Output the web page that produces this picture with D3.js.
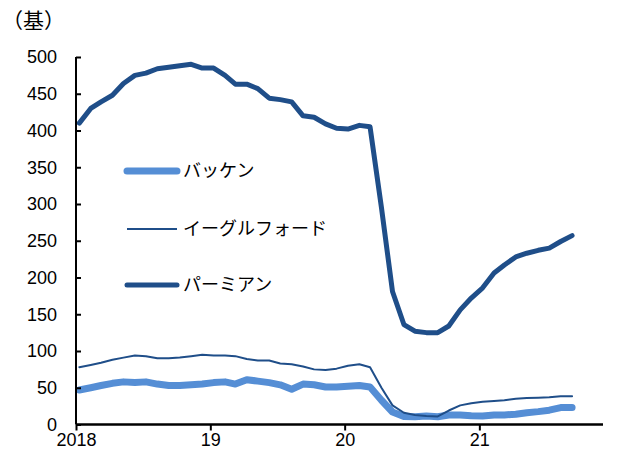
<!DOCTYPE html>
<html>
<head>
<meta charset="utf-8">
<script src="https://cdn.jsdelivr.net/npm/d3@7"></script>
<style>
  body { margin: 0; background: #fff; }
  text { font-family: "Liberation Sans", Arial, sans-serif; }
  .jp { font-family: "Noto Sans CJK JP", sans-serif; }
</style>
</head>
<body>
<script>
// monthly observations, Jan 2018 .. Sep 2021
const months = d3.timeMonth.range(new Date(2018, 0, 1), new Date(2021, 9, 1));

const bakken = [47, 50, 53, 56, 58, 57, 58, 55, 53, 53, 54, 55, 57, 58, 55, 61, 59, 57, 54, 48,
  55, 54, 51, 51, 52, 53, 51, 33, 17, 11, 10.5, 11.5, 10.5, 13, 13, 12, 11.5, 13, 13, 14,
  16, 17.5, 19.5, 23, 23];
const eagleFord = [78, 81, 84, 88, 91, 94, 93, 90, 90, 91, 93, 95, 94, 94, 93, 89, 87, 87, 83, 82,
  79, 75, 74, 76, 80, 82, 78, 50, 26, 16, 13, 11.5, 11, 19, 26, 29, 31, 32, 33, 35,
  36, 36.5, 37, 38.5, 38.5];
const permian = [410, 430, 439, 448, 464, 475, 478, 484, 486, 488, 490, 485, 485, 475, 463, 463, 457, 444, 442, 439,
  420, 418, 409, 403, 402, 407, 405, 295, 181, 136, 127, 125, 125, 134, 156, 172, 186, 206, 217, 228,
  233, 237, 240, 249, 257];

const seriesNames = ['バッケン', 'イーグルフォード', 'パーミアン'];
const yTicks = [0, 50, 100, 150, 200, 250, 300, 350, 400, 450, 500];
const xTickLabels = ['2018', '19', '20', '21'];
const unitLabel = '（基）';

const W = 623, H = 457;
const svg = d3.select('body').append('svg').attr('width', W).attr('height', H);

const x = d3.scaleTime()
  .domain([new Date(2018, 0, 1), new Date(2021, 11, 3)])
  .range([76, 603]);
const y = d3.scaleLinear().domain([0, 500]).range([424.5, 57]);

// point sits a little into each month
const when = i => d3.timeDay.offset(months[i], 9);

const series = [
  { name: seriesNames[0], values: bakken, color: '#558ed5', width: 7 },
  { name: seriesNames[1], values: eagleFord, color: '#1f4e89', width: 2 },
  { name: seriesNames[2], values: permian, color: '#1f4e89', width: 5 }
];

const line = d3.line().x((d, i) => x(when(i))).y(d => y(d));

// lines (draw bakken first, then eagle ford, then permian)
series.forEach(s => {
  svg.append('path')
    .datum(s.values)
    .attr('fill', 'none')
    .attr('stroke', s.color)
    .attr('stroke-width', s.width)
    .attr('stroke-linejoin', 'round')
    .attr('stroke-linecap', 'round')
    .attr('d', line);
});

// y axis, ticks pointing inward
const yAxis = svg.append('g')
  .attr('transform', 'translate(' + x.range()[0] + ',0)')
  .call(d3.axisRight(y).tickValues(yTicks).tickSize(5).tickFormat(d3.format('d')));
yAxis.select('.domain').attr('d', 'M0,' + y(0) + 'V' + y(500)).attr('stroke', '#000').attr('stroke-width', 2);
yAxis.selectAll('.tick line').attr('stroke', '#000').attr('stroke-width', 2);
yAxis.selectAll('.tick text')
  .attr('x', -19).attr('text-anchor', 'end')
  .attr('font-size', 18).attr('fill', '#000')
  .attr('font-family', '"Liberation Sans", Arial, sans-serif');

// x axis, ticks pointing down
const xAxis = svg.append('g')
  .attr('transform', 'translate(0,' + y(0) + ')')
  .call(d3.axisBottom(x)
    .tickValues(xTickLabels.map((d, i) => new Date(2018 + i, 0, 1)))
    .tickSize(6)
    .tickFormat((d, i) => xTickLabels[i]));
xAxis.select('.domain').attr('d', 'M' + x.range()[0] + ',0H' + x.range()[1]).attr('stroke', '#000').attr('stroke-width', 2.5);
xAxis.selectAll('.tick line').attr('stroke', '#000').attr('stroke-width', 2);
xAxis.selectAll('.tick text')
  .attr('y', 9)
  .attr('font-size', 18).attr('fill', '#000')
  .attr('font-family', '"Liberation Sans", Arial, sans-serif');

// unit label
svg.append('text')
  .attr('class', 'jp')
  .attr('x', 2).attr('y', 28)
  .attr('font-size', 21)
  .text(unitLabel);

// legend
const legendY = [171, 229, 285];
series.forEach((s, i) => {
  const g = svg.append('g').attr('transform', 'translate(0,' + legendY[i] + ')');
  g.append('line')
    .attr('x1', 127).attr('x2', 177)
    .attr('stroke', s.color)
    .attr('stroke-width', s.width)
    .attr('stroke-linecap', s.width > 3 ? 'round' : 'butt');
  g.append('text')
    .attr('class', 'jp')
    .attr('x', 183).attr('y', 0)
    .attr('dy', '0.35em')
    .attr('font-size', 18)
    .attr('fill', '#000')
    .text(s.name);
});
</script>
</body>
</html>
